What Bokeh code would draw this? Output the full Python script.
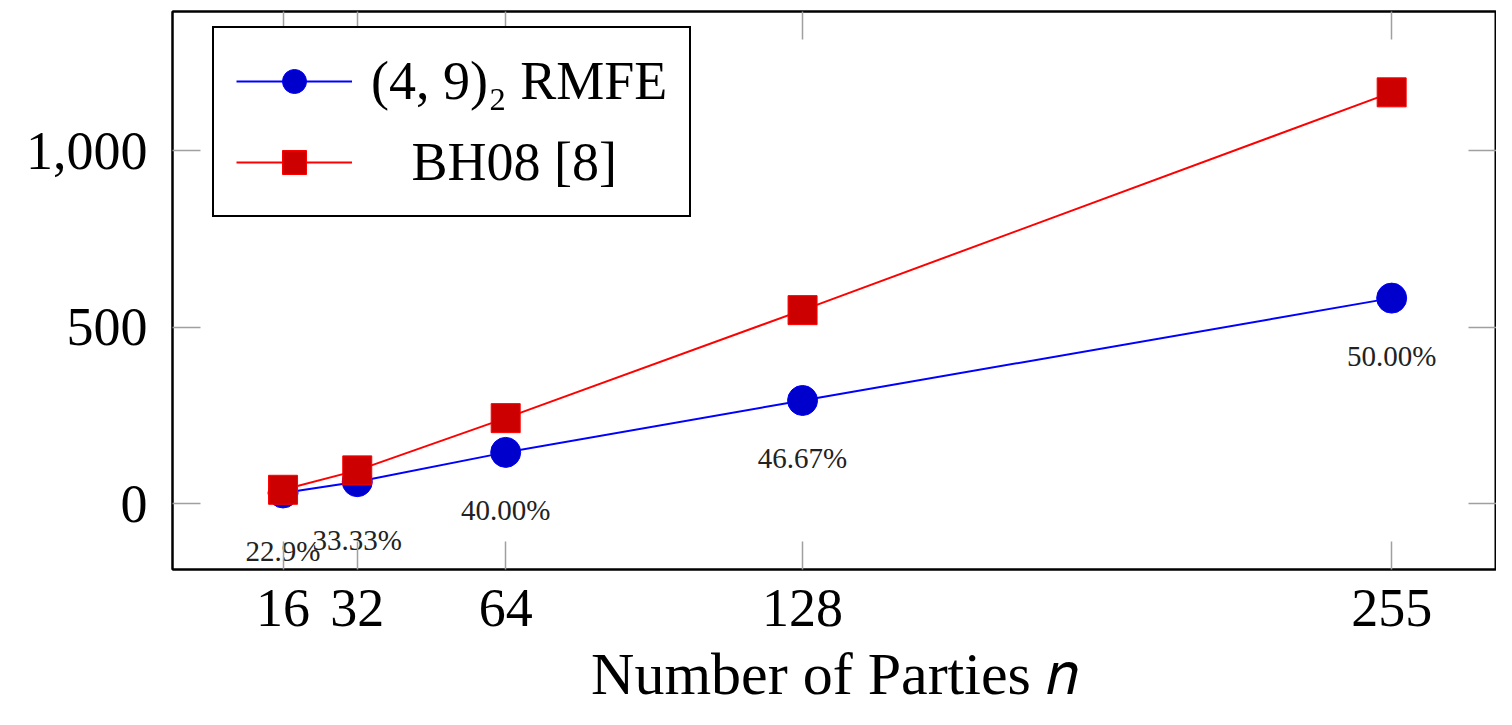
from bokeh.plotting import figure
from bokeh.models import (Range1d, FixedTicker, NumeralTickFormatter, LinearAxis,
                          Legend, LegendItem, ColumnDataSource, CustomJSTickFormatter)
from bokeh.core.properties import value
from bokeh.embed import file_html
from bokeh.resources import INLINE

# ---- data ----
parties = [16, 32, 64, 128, 255]
rmfe = [31, 63, 146, 293, 583]
bh08 = [40, 95, 243, 549, 1166]
pct_labels = ["22.9%", "33.33%", "40.00%", "46.67%", "50.00%"]
x_ticks = [16, 32, 64, 128, 255]
y_ticks = [0, 500, 1000]
series_names = ["(4, 9)\u2082 RMFE", "\u00a0\u00a0\u00a0BH08 [8]"]
x_label = "Number of Parties \U0001D45B"

FONT = "Liberation Serif"
TICK_COLOR = "#a0a0a0"

p = figure(width=1496, height=709, output_backend="svg", toolbar_location=None,
           x_range=Range1d(-7.83, 277.6), y_range=Range1d(-185.8, 1395),
           min_border_left=172, min_border_right=0, min_border_top=11, min_border_bottom=139)

p.background_fill_color = "white"
p.border_fill_color = "white"
p.outline_line_color = "black"
p.outline_line_width = 2
p.xgrid.visible = False
p.ygrid.visible = False

def style_axis(ax, labels=True):
    ax.axis_line_color = "black"
    ax.axis_line_width = 2
    ax.major_tick_line_color = TICK_COLOR
    ax.major_tick_line_width = 1.5
    ax.major_tick_in = 28
    ax.major_tick_out = 0
    ax.minor_tick_line_color = None
    if labels:
        ax.major_label_text_font = FONT
        ax.major_label_text_font_size = "54px"
        ax.major_label_text_color = "black"
    else:
        ax.major_label_text_font_size = "0px"
        ax.major_label_standoff = 0
        ax.formatter = CustomJSTickFormatter(code="return ''")

# bottom x axis
xa = p.xaxis[0]
xa.ticker = FixedTicker(ticks=x_ticks)
style_axis(xa)
xa.major_label_standoff = 20
xa.axis_label = x_label
xa.axis_label_text_font = FONT
xa.axis_label_text_font_style = "normal"
xa.axis_label_text_font_size = "60px"
xa.axis_label_text_color = "black"
xa.axis_label_standoff = 12

# left y axis
ya = p.yaxis[0]
ya.ticker = FixedTicker(ticks=y_ticks)
ya.formatter = NumeralTickFormatter(format="0,0")
style_axis(ya)
ya.major_label_standoff = 25

# top and right axes (ticks only)
top = LinearAxis(ticker=FixedTicker(ticks=x_ticks))
style_axis(top, labels=False)
p.add_layout(top, "above")
right = LinearAxis(ticker=FixedTicker(ticks=y_ticks))
style_axis(right, labels=False)
p.add_layout(right, "right")

src = ColumnDataSource(dict(x=parties, rmfe=rmfe, bh08=bh08, pct=pct_labels))

l1 = p.line("x", "rmfe", source=src, line_color="#0000ff", line_width=2)
m1 = p.scatter("x", "rmfe", source=src, marker="circle", size=30,
               fill_color="#0000cc", line_color="#0000ff", line_width=1)
l2 = p.line("x", "bh08", source=src, line_color="#ff0000", line_width=2)
m2 = p.scatter("x", "bh08", source=src, marker="square", size=29,
               fill_color="#cc0000", line_color="#ff0000", line_width=1)

p.text("x", "rmfe", text="pct", source=src, text_align="center",
       text_baseline="alphabetic", y_offset=58,
       text_font=value(FONT), text_font_size="29px", text_color="#222222")

legend = Legend(items=[LegendItem(label=series_names[0], renderers=[l1, m1]),
                       LegendItem(label=series_names[1], renderers=[l2, m2])],
                location=(40, 352))
legend.border_line_color = "black"
legend.border_line_alpha = 1
legend.border_line_width = 2
legend.background_fill_color = "white"
legend.background_fill_alpha = 1
legend.label_text_font = FONT
legend.label_text_font_size = "54px"
legend.label_text_color = "black"
legend.glyph_width = 116
legend.glyph_height = 60
legend.label_height = 60
legend.spacing = 19
legend.padding = 22
legend.margin = 0
legend.label_standoff = 19
p.add_layout(legend, "center")

open("out.html", "w").write(file_html(p, INLINE))
